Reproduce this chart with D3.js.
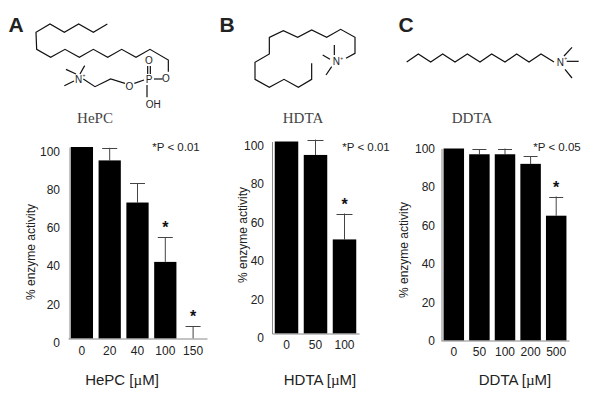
<!DOCTYPE html>
<html>
<head>
<meta charset="utf-8">
<script src="https://cdn.jsdelivr.net/npm/d3@7/dist/d3.min.js"></script>
<style>
  html, body { margin: 0; padding: 0; background: #fff; }
  svg { display: block; }
  text { font-family: "Liberation Sans", Arial, sans-serif; fill: #222; }
</style>
</head>
<body>
<div id="container"></div>
<script>
const yTicks = [0, 20, 40, 60, 80, 100];

/* ---------------- DATA ---------------- */
const hepcDoses = ["0", "20", "40", "100", "150"];
const hepcValues = [100, 93, 71, 40, 0];
const hepcUpper = [100, 99.6, 81, 53, 6.5];
const hepcStars = ["100", "150"];

const hdtaDoses = ["0", "50", "100"];
const hdtaValues = [100, 93, 49];
const hdtaUpper = [100, 101, 62.5];
const hdtaStars = ["100"];

const ddtaDoses = ["0", "50", "100", "200", "500"];
const ddtaValues = [100, 97, 97, 92, 65];
const ddtaUpper = [100, 99.5, 100, 96, 75];
const ddtaStars = ["500"];

/* ---------------- MOLECULES (zoomed px / 3) ---------------- */
const hepcChain = [[322,72],[280,97],[236,72],[193,97],[150,72],[108,97],[110,148],[152,172],[195,148],[238,172],[280,148],[323,172],[365,148],[408,172],[450,148],[505,180],[505,215]];
const hepcBonds = [
  [[488,237],[462,237]], [[443,198],[443,222]], [[451,198],[451,222]], [[441,255],[441,292]],
  [[432,240],[403,250]], [[375,250],[332,237],[285,260],[250,237]],
  [[228,222],[198,208]], [[240,222],[254,197]], [[222,243],[193,257]]
];
const hepcAtoms = [["O",498,235],["P",447,237],["O",447,180],["OH",460,312],["O",388,258],["N",236,237]];

const hdtaChain = [[305,190],[305,238],[265,262],[222,238],[178,262],[135,238],[135,187],[178,162],[178,112],[220,92],[263,112],[305,90],[350,112],[392,88],[435,112],[435,160],[408,175]];
const hdtaBonds = [[[373,165],[373,135]], [[360,178],[338,165]], [[365,200],[348,225]]];
const hdtaAtoms = [["N",379,185]];

const ddtaChain = [[50,186],[85,162],[122,186],[158,162],[195,186],[232,162],[270,186],[305,162],[345,186],[380,162],[417,186],[453,162],[492,186]];
const ddtaBonds = [[[522,168],[546,142]], [[530,184],[566,184]], [[525,208],[546,234]]];
const ddtaAtoms = [["N",511,187]];

const svg = d3.select("#container").append("svg")
  .attr("width", 600)
  .attr("height", 399);

/* ---------------- MOLECULE DRAWING ---------------- */
function molecule(offset, chain, bonds, atoms) {
  const g = svg.append("g").attr("transform", `translate(${offset},0) scale(${1 / 3})`);
  const line = d3.line();

  g.selectAll("path")
    .data([chain, ...bonds])
    .enter()
    .append("path")
    .attr("d", d => line(d))
    .attr("fill", "none")
    .attr("stroke", "#111")
    .attr("stroke-width", 3.6);

  g.selectAll("text")
    .data(atoms)
    .enter()
    .append("text")
    .attr("x", d => d[1])
    .attr("y", d => d[2])
    .attr("text-anchor", "middle")
    .attr("dominant-baseline", "central")
    .attr("font-size", 30)
    .text(d => d[0]);

  // the + on the nitrogen
  atoms.filter(d => d[0] === "N").forEach(d => {
    g.append("text")
      .attr("x", d[1] + 16)
      .attr("y", d[2] - 6)
      .attr("text-anchor", "middle")
      .attr("font-size", 15)
      .text("+");
  });
}

function panelLetter(t, x) {
  svg.append("text")
    .attr("x", x)
    .attr("y", 32)
    .attr("text-anchor", "middle")
    .attr("font-size", 21)
    .attr("font-weight", "bold")
    .attr("fill", "#111")
    .text(t);
}

function compoundName(t, x) {
  svg.append("text")
    .attr("x", x)
    .attr("y", 123)
    .attr("text-anchor", "middle")
    .attr("font-size", 15)
    .style("font-family", '"Liberation Serif", serif')
    .style("fill", "#444")
    .text(t);
}

/* ---------------- BAR PANEL ---------------- */
function barPanel(p) {
  const x = d3.scaleBand()
    .domain(p.doses)
    .range([p.bandLeft, p.right])
    .paddingInner(p.pad)
    .paddingOuter(p.pad / 2);

  const y = d3.scaleLinear()
    .domain([0, 100])
    .range([p.base, p.top]);

  const rows = p.doses.map((d, i) => ({ dose: d, value: p.values[i], upper: p.upper[i] }));
  const g = svg.append("g");

  g.selectAll("line.stem")
    .data(rows.filter(d => d.upper > d.value))
    .enter()
    .append("line")
    .attr("class", "stem")
    .attr("x1", d => x(d.dose) + x.bandwidth() / 2)
    .attr("x2", d => x(d.dose) + x.bandwidth() / 2)
    .attr("y1", d => y(d.value))
    .attr("y2", d => y(d.upper))
    .attr("stroke", "#444");

  g.selectAll("line.cap")
    .data(rows.filter(d => d.upper > d.value))
    .enter()
    .append("line")
    .attr("class", "cap")
    .attr("x1", d => x(d.dose) + x.bandwidth() / 2 - p.cap)
    .attr("x2", d => x(d.dose) + x.bandwidth() / 2 + p.cap)
    .attr("y1", d => Math.round(y(d.upper)) + 0.5)
    .attr("y2", d => Math.round(y(d.upper)) + 0.5)
    .attr("stroke", "#444");

  g.selectAll("rect")
    .data(rows)
    .enter()
    .append("rect")
    .attr("x", d => x(d.dose))
    .attr("y", d => y(d.value))
    .attr("width", x.bandwidth())
    .attr("height", d => p.base - y(d.value))
    .attr("fill", "#000");

  // y axis, labels sit a bit off the ticks like the original
  const yAxis = g.append("g")
    .attr("transform", `translate(${p.left},0)`)
    .call(d3.axisLeft(y).tickValues(yTicks).tickSize(0).tickPadding(p.left - p.labelRight));
  yAxis.selectAll("text")
    .attr("font-size", 12)
    .attr("dy", null)
    .attr("dominant-baseline", "central")
    .attr("y", p.labelShift);
  yAxis.select(".domain").attr("stroke", "#888").attr("stroke-width", 1);

  const xAxis = g.append("g")
    .attr("transform", `translate(0,${p.base})`)
    .call(d3.axisBottom(x).tickSize(0).tickPadding(0));
  xAxis.selectAll("text")
    .attr("font-size", 12)
    .attr("dy", null)
    .attr("dominant-baseline", "central")
    .attr("y", p.xLabelY - p.base);
  xAxis.select(".domain").attr("stroke", "#888").attr("stroke-width", 1);

  g.append("text")
    .attr("transform", `translate(${p.yTitleX},${p.yTitleY}) rotate(-90)`)
    .attr("text-anchor", "middle")
    .attr("dominant-baseline", "central")
    .attr("font-size", 12)
    .text("% enzyme activity");

  const xTitle = g.append("text")
    .attr("x", p.xTitleX)
    .attr("y", 385)
    .attr("text-anchor", "middle")
    .attr("font-size", 15);
  xTitle.append("tspan").text(p.name + " [");
  xTitle.append("tspan").style("font-family", '"Liberation Serif", serif').text("\u00b5");
  xTitle.append("tspan").text("M]");

  g.append("text")
    .attr("x", p.noteX)
    .attr("y", 147)
    .attr("text-anchor", "middle")
    .attr("dominant-baseline", "central")
    .attr("font-size", 11.5)
    .text(p.note);

  g.selectAll("text.star")
    .data(rows.filter(d => p.stars.includes(d.dose)))
    .enter()
    .append("text")
    .attr("class", "star")
    .attr("x", d => x(d.dose) + x.bandwidth() / 2)
    .attr("y", d => y(d.upper) - 4)
    .attr("text-anchor", "middle")
    .attr("font-size", 16)
    .attr("font-weight", "bold")
    .style("fill", "#111")
    .text("*");
}

/* ---------------- MAIN ---------------- */
panelLetter("A", 16);
panelLetter("B", 227);
panelLetter("C", 406);

molecule(0, hepcChain, hepcBonds, hepcAtoms);
molecule(210, hdtaChain, hdtaBonds, hdtaAtoms);
molecule(390, ddtaChain, ddtaBonds, ddtaAtoms);

compoundName("HePC", 95);
compoundName("HDTA", 303);
compoundName("DDTA", 472);

barPanel({
  name: "HePC", doses: hepcDoses, values: hepcValues, upper: hepcUpper, stars: hepcStars,
  left: 69.5, bandLeft: 68, right: 207, base: 338.5, top: 147, pad: 0.2, cap: 7.5,
  labelRight: 60, labelShift: 4, xLabelY: 351, yTitleX: 31, yTitleY: 252,
  xTitleX: 122, noteX: 176, note: "*P < 0.01"
});

barPanel({
  name: "HDTA", doses: hdtaDoses, values: hdtaValues, upper: hdtaUpper, stars: hdtaStars,
  left: 272, bandLeft: 272, right: 359, base: 333.5, top: 141.5, pad: 0.19, cap: 8,
  labelRight: 264, labelShift: 4, xLabelY: 345, yTitleX: 243, yTitleY: 235,
  xTitleX: 320, noteX: 366, note: "*P < 0.01"
});

barPanel({
  name: "DDTA", doses: ddtaDoses, values: ddtaValues, upper: ddtaUpper, stars: ddtaStars,
  left: 441.5, bandLeft: 441, right: 569, base: 340.5, top: 148.5, pad: 0.2, cap: 7,
  labelRight: 435, labelShift: 0, xLabelY: 352, yTitleX: 404, yTitleY: 250,
  xTitleX: 515, noteX: 557, note: "*P < 0.05"
});
</script>
</body>
</html>
